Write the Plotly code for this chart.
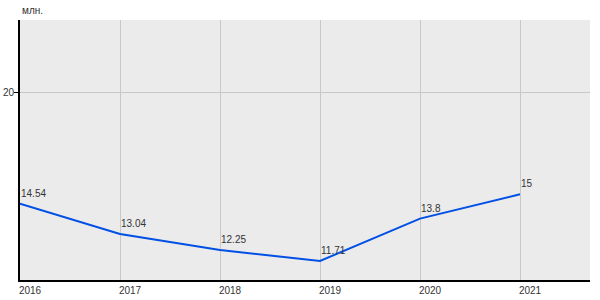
import plotly.graph_objects as go

years = [2016, 2017, 2018, 2019, 2020, 2021]
values = [14.54, 13.04, 12.25, 11.71, 13.8, 15]
labels = ["14.54", "13.04", "12.25", "11.71", "13.8", "15"]
y_ticks = [20]
unit = "млн."

FONT = "Liberation Sans, Arial"

fig = go.Figure()
fig.add_trace(go.Scatter(
    x=years, y=values, mode="lines", cliponaxis=False,
    line=dict(color="#0050e6", width=2), hoverinfo="skip"))

annotations = [dict(text=lab, x=xv, y=yv, xref="x", yref="y",
                    xanchor="left", yanchor="bottom", showarrow=False,
                    xshift=-1, yshift=3,
                    font=dict(family=FONT, size=10, color="#333333"))
               for xv, yv, lab in zip(years, values, labels)]
annotations.append(dict(text=unit, xref="paper", yref="paper", x=0, y=1,
                        xanchor="left", yanchor="bottom", showarrow=False, yshift=2,
                        font=dict(family=FONT, size=10, color="#333333")))

fig.update_layout(
    width=600, height=300,
    margin=dict(l=20, r=10, t=20, b=20, autoexpand=False),
    plot_bgcolor="#ebebeb", paper_bgcolor="white",
    showlegend=False,
    font=dict(family=FONT, size=10, color="#333333"),
    xaxis=dict(range=[2016, 2021.7], tickvals=years, ticktext=[str(y) for y in years],
               showgrid=True, gridcolor="#c8c8c8", gridwidth=1,
               showline=True, linecolor="black", linewidth=2,
               ticks="", ticklabelshift=10, ticklabelstandoff=0,
               zeroline=False, fixedrange=True, automargin=False),
    yaxis=dict(range=[10.77, 23.6], tickvals=y_ticks, showgrid=True,
               gridcolor="#c8c8c8", gridwidth=1,
               showline=True, linecolor="black", linewidth=2,
               ticks="outside", ticklen=4, tickcolor="black",
               ticklabelstandoff=-2,
               zeroline=False, fixedrange=True, automargin=False),
    annotations=annotations,
)

fig.write_html("out.html")
